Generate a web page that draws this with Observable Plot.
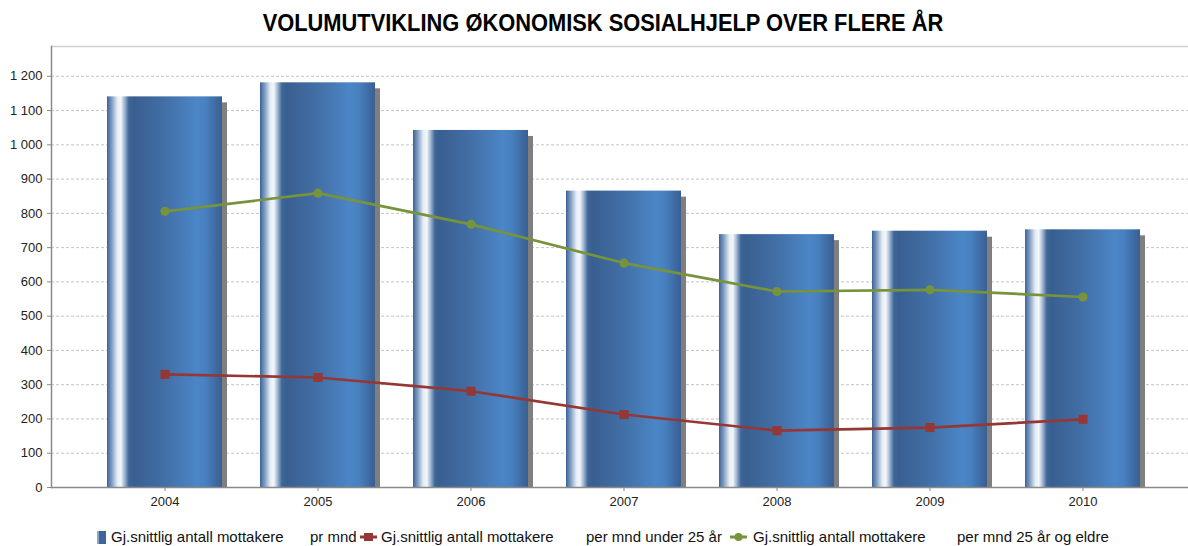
<!DOCTYPE html>
<html>
<head>
<meta charset="utf-8">
<script src="https://cdn.jsdelivr.net/npm/d3@7"></script>
<script src="https://cdn.jsdelivr.net/npm/@observablehq/plot@0.6"></script>
<style>
  html, body { margin: 0; padding: 0; background: #fff; }
  body { width: 1188px; height: 546px; overflow: hidden; font-family: "Liberation Sans", Arial, sans-serif; }
  #title { height: 40px; width: 1188px; position: relative; }
  #title span { position: absolute; left: 603px; top: 10px; transform: translateX(-50%) scaleX(0.95); white-space: nowrap;
    font-size: 23px; font-weight: bold; color: #000; line-height: 26px; }
  #legend { position: relative; height: 36px; width: 1188px; font-size: 15px; color: #111; }
  .piece { position: absolute; top: 18px; white-space: nowrap; line-height: 18px; height: 18px; display: flex; align-items: center; }
</style>
</head>
<body>
<div id="title"><span></span></div>
<div id="chart"></div>
<div id="legend"></div>
<script>
const titleText = "VOLUMUTVIKLING ØKONOMISK SOSIALHJELP OVER FLERE ÅR";
const years = ["2004", "2005", "2006", "2007", "2008", "2009", "2010"];
const total = [1140, 1181, 1042, 865, 738, 748, 752];
const under25 = [330, 321, 281, 213, 166, 175, 199];
const over25 = [806, 859, 768, 655, 572, 577, 556];
const yTicks = [0, 100, 200, 300, 400, 500, 600, 700, 800, 900, 1000, 1100, 1200];
const yTop = 1287;
const legendMain = ["Gj.snittlig antall mottakere", "Gj.snittlig antall mottakere", "Gj.snittlig antall mottakere"];
const legendSub = ["pr mnd", "per mnd under 25 år", "per mnd 25 år og eldre"];

const blue = "#3d6599", red = "#953735", green = "#77933c";

const data = years.map((y, i) => ({year: y, total: total[i], under25: under25[i], over25: over25[i]}));

document.querySelector("#title span").textContent = titleText;

const fmt = d => d3.format(",")(d).replace(/,/g, " ");

const chart = Plot.plot({
  width: 1188,
  height: 470,
  marginLeft: 51,
  marginRight: 0,
  marginTop: 6,
  marginBottom: 23,
  style: {fontFamily: "Liberation Sans, Arial, sans-serif", fontSize: "13px", color: "#222", background: "#fff"},
  x: {domain: years, range: [88, 1159], paddingInner: 0.25, paddingOuter: 0.125, align: 0.5, label: null},
  y: {domain: [0, yTop], label: null},
  marks: [
    Plot.ruleY(yTicks.filter(d => d > 0), {stroke: "#c4c4c4", strokeDasharray: "3,2", strokeWidth: 1}),
    Plot.ruleY([yTop], {stroke: "#d0d0d0", strokeWidth: 1.5}),
    Plot.barY(data, {x: "year", y: "total", fill: "#7f7f7f", dx: 5, insetTop: 6}),
    Plot.barY(data, {x: "year", y: "total", fill: "url(#barGrad)"}),
    Plot.frame({anchor: "left", stroke: "#8a8a8a", strokeWidth: 1.5}),
    Plot.ruleY([0], {stroke: "#8a8a8a", strokeWidth: 1.5}),
    Plot.line(data, {x: "year", y: "under25", stroke: red, strokeWidth: 2.7}),
    Plot.dot(data, {x: "year", y: "under25", fill: red, symbol: "square", r: 5.1}),
    Plot.line(data, {x: "year", y: "over25", stroke: green, strokeWidth: 2.7}),
    Plot.dot(data, {x: "year", y: "over25", fill: green, r: 4.6}),
    Plot.axisY({ticks: yTicks, tickFormat: fmt, tickSize: 4, tickPadding: 5, stroke: "#8a8a8a", fill: "#222", fontSize: 13}),
    Plot.axisX({tickSize: 4, tickPadding: 5, stroke: "#8a8a8a", fill: "#222", fontSize: 13})
  ]
});

// gradient for cylinder-like bars
const svg = d3.select(chart);
const defs = svg.insert("defs", ":first-child");
const g = defs.append("linearGradient").attr("id", "barGrad").attr("x1", 0).attr("x2", 1).attr("y1", 0).attr("y2", 0);
[
  [0, "#3b6296"], [0.04, "#7e9cc2"], [0.09, "#e6edf5"], [0.12, "#f4f7fa"], [0.15, "#a7bcd6"],
  [0.19, "#3f6698"], [0.23, "#395f91"], [0.5, "#426fa6"], [0.78, "#4b86c7"], [0.86, "#4880bf"],
  [0.95, "#3e6aa2"], [1, "#395f92"]
].forEach(([o, c]) => g.append("stop").attr("offset", o).attr("stop-color", c));

document.getElementById("chart").appendChild(chart);

// legend
const legend = document.getElementById("legend");
const markers = [
  `<svg width="9" height="13"><rect x="0" y="0" width="9" height="13" fill="${blue}"/><rect x="0" y="0" width="2" height="13" fill="#8aa5c8"/></svg>`,
  `<svg width="17" height="10"><line x1="0" y1="5" x2="17" y2="5" stroke="${red}" stroke-width="3"/><rect x="4" y="1" width="9" height="8" fill="${red}"/></svg>`,
  `<svg width="17" height="10"><line x1="0" y1="5" x2="17" y2="5" stroke="${green}" stroke-width="3"/><circle cx="8.5" cy="5" r="4" fill="${green}"/></svg>`
];
const markerLeft = [97, 360, 730];
const mainLeft = [111, 381, 753];
const subLeft = [310, 586, 957];
function piece(left, html) {
  const d = document.createElement("div");
  d.className = "piece";
  d.style.left = left + "px";
  d.innerHTML = html;
  legend.appendChild(d);
}
legendMain.forEach((m, i) => {
  piece(markerLeft[i], markers[i]);
  piece(mainLeft[i], m);
  piece(subLeft[i], legendSub[i]);
});
</script>
</body>
</html>
